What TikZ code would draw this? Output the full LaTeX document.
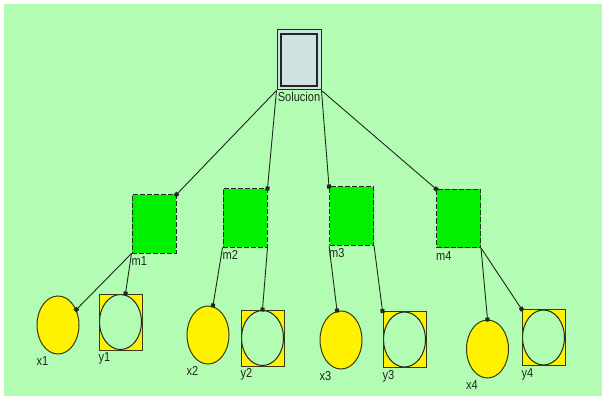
\documentclass[tikz,border=0pt]{standalone}
\usepackage{fontspec}
\setmainfont{Liberation Sans}
\usetikzlibrary{arrows.meta}
\usetikzlibrary{shapes.geometric}

\definecolor{paper}{HTML}{B3FCB3}
\definecolor{solfill}{HTML}{CFE3E3}
\definecolor{mgreen}{HTML}{00F000}
\definecolor{ink}{HTML}{1E2A1E}
\definecolor{olive}{HTML}{3A3A10}

\tikzset{
  solbox/.style={draw=ink, line width=1pt, fill=solfill, inner sep=0pt,
    minimum width=44pt, minimum height=60pt,
    path picture={\draw[ink, line width=1.4pt]
      ([shift={(4pt,-4pt)}]path picture bounding box.north west) rectangle
      ([shift={(-4pt,4pt)}]path picture bounding box.south east);}},
  mbox/.style={draw=ink, dashed, dash pattern=on 5pt off 2pt, line width=1pt,
    fill=mgreen, inner sep=0pt, minimum width=44pt, minimum height=58pt},
  xvar/.style={ellipse, draw=olive, line width=1pt, fill=yellow, inner sep=0pt,
    minimum width=42pt, minimum height=58pt},
  yvar/.style={draw=olive, line width=1pt, fill=yellow, inner sep=0pt,
    minimum width=43pt, minimum height=56pt,
    path picture={\draw[ink, line width=1pt, fill=paper]
      (path picture bounding box.center) ellipse [x radius=21pt, y radius=27.5pt];}},
  tag/.style={font=\fontsize{13}{15}\selectfont, text=ink, inner sep=0pt, xscale=0.85},
  tie/.style={ink, line width=0.9pt, -{Square[length=4pt,width=4pt]}, shorten >=-2pt}
}

\begin{document}
\begin{tikzpicture}[x=1pt, y=-1pt]
\useasboundingbox (0,0) rectangle (602,398);
\fill[paper] (4,4) rectangle (602,396);

\node[solbox] (sol) at (299,60) {};
\node[tag, anchor=north] (lsol) at ([yshift=-1pt]sol.south) {Solucion};

\node[mbox] (m1) at (154,224) {};
\node[mbox] (m2) at (245,218) {};
\node[mbox] (m3) at (351.5,216) {};
\node[mbox] (m4) at (458.5,218.5) {};

\foreach \n/\cx/\cy in {1/58/325, 2/208/335, 3/341/340, 4/487.5/349}
  \node[xvar] (x\n) at (\cx,\cy) {};
\foreach \n/\cx/\cy in {1/120.5/322, 2/262.5/338, 3/404.5/339.5, 4/543.5/337.5}
  \node[yvar] (y\n) at (\cx,\cy) {};

\foreach \n in {1,...,4} {
  \node[tag, anchor=north west] (lm\n) at ([yshift=-3pt]m\n.south west) {m\n};
  \node[tag, anchor=north west] (lx\n) at ([yshift=-2pt]x\n.west |- x\n.south) {x\n};
  \node[tag, anchor=north west] (ly\n) at ([yshift=-2pt]y\n.south west) {y\n};
}

\draw[tie] (sol.south west) -- (m1.north east);
\draw[tie] (sol.south west) -- (m2.north east);
\draw[tie] (sol.south east) -- (m3.north west);
\draw[tie] (sol.south east) -- (m4.north west);

\draw[tie] (m1.south west) -- (x1.40);
\draw[tie] (m1.south west) -- ([xshift=5pt]y1.north);
\draw[tie] (m2.south west) -- ([xshift=5pt]x2.north);
\draw[tie] (m2.south east) -- (y2.north);
\draw[tie] (m3.south west) -- ([xshift=-4pt]x3.north);
\draw[tie] (m3.south east) -- (y3.north west);
\draw[tie] (m4.south east) -- (x4.north);
\draw[tie] (m4.south east) -- (y4.north west);
\end{tikzpicture}
\end{document}
